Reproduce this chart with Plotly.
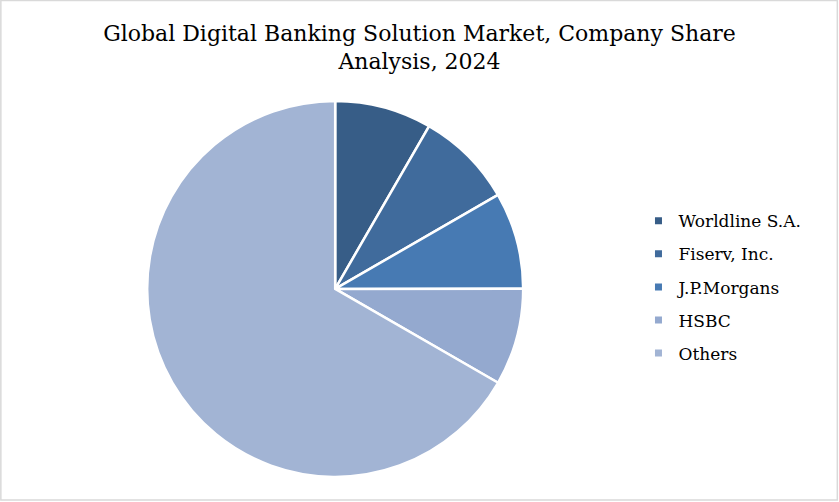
import plotly.graph_objects as go

companies = ["Worldline S.A.", "Fiserv, Inc.", "J.P.Morgans", "HSBC", "Others"]
shares = [8.33, 8.33, 8.33, 8.33, 66.68]
colors = ["#375d87", "#406b9c", "#477ab3", "#94a9cf", "#a2b4d4"]

serif = "'DejaVu Serif', Georgia, 'Liberation Serif', serif"

fig = go.Figure()
fig.add_trace(
    go.Pie(
        labels=companies,
        values=shares,
        sort=False,
        direction="clockwise",
        rotation=0,
        textinfo="none",
        hoverinfo="label+percent",
        showlegend=False,
        marker=dict(colors=colors, line=dict(color="white", width=2.5)),
        domain=dict(x=[0.175, 0.624], y=[0.05, 0.799]),
    )
)

# legend entries, one group per company so the rows can be spaced out
for name, col in zip(companies, colors):
    fig.add_trace(
        go.Scatter(
            x=[None], y=[None], mode="markers", name=name,
            legendgroup=name,
            marker=dict(symbol="square", size=7, color=col),
        )
    )

fig.update_layout(
    width=839,
    height=502,
    margin=dict(l=0, r=0, t=0, b=0, autoexpand=False),
    paper_bgcolor="white",
    plot_bgcolor="white",
    xaxis=dict(visible=False),
    yaxis=dict(visible=False),
    title=dict(
        text="Global Digital Banking Solution Market, Company Share<br>Analysis, 2024",
        x=0.5,
        xanchor="center",
        y=0.919,
        yanchor="top",
        font=dict(family=serif, size=22, color="black"),
    ),
    legend=dict(
        x=0.761,
        xanchor="left",
        y=0.428,
        yanchor="middle",
        font=dict(family=serif, size=17, color="black"),
        tracegroupgap=8,
        itemclick=False,
    ),
    shapes=[
        dict(
            type="rect", xref="paper", yref="paper",
            x0=0.001, y0=0.004, x1=0.998, y1=0.999,
            line=dict(color="#d9d9d9", width=1.5),
        )
    ],
)

# drop the default page margin so the figure sits at the window's corner
fig.write_html(
    "out.html",
    config={"displayModeBar": False},
    post_script="document.body.style.margin = '0';",
)
